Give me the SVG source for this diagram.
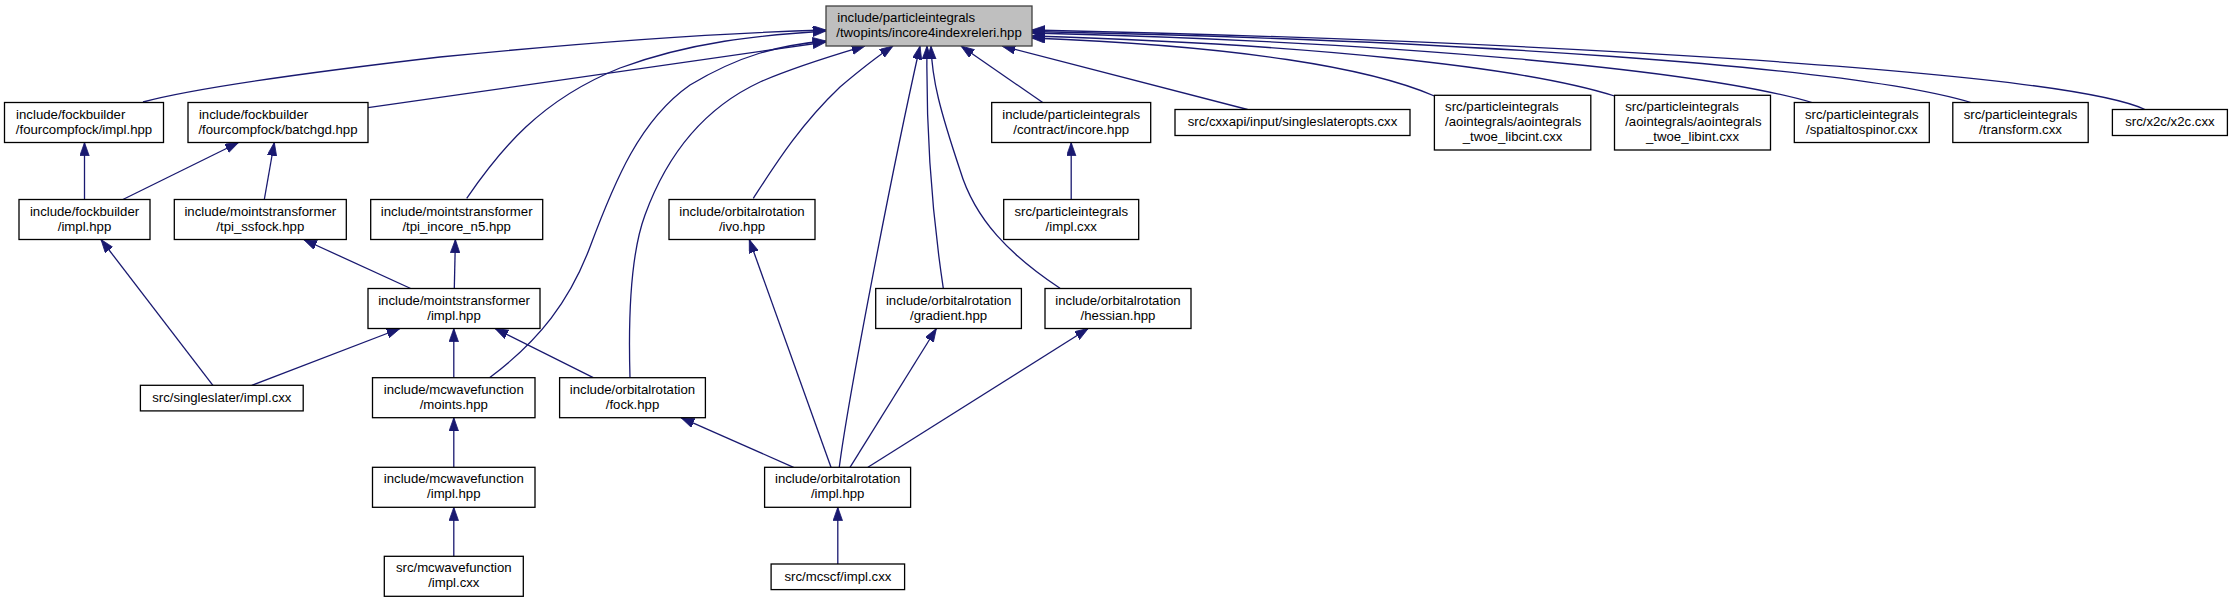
<svg xmlns="http://www.w3.org/2000/svg" width="2233" height="603" viewBox="0 0 2233 603">
<defs>
<marker id="arr" markerUnits="userSpaceOnUse" markerWidth="14" markerHeight="10" refX="13.3" refY="4.7" orient="auto">
<path d="M0,0 L13.3,4.7 L0,9.4 Z" fill="#191970" stroke="#191970" stroke-width="0.8"/>
</marker>
<style>
.n rect{fill:#ffffff;stroke:#000000;stroke-width:1.3}
.r rect{fill:#bfbfbf;stroke:#404040;stroke-width:1.3}
text{font-family:"Liberation Sans",Arial,Helvetica,sans-serif;font-size:13.2px;fill:#000000}
.m{text-anchor:middle}
.s{text-anchor:start}
#edges path{fill:none;stroke:#191970;stroke-width:1.3;marker-end:url(#arr)}
</style>
</defs>
<rect width="2233" height="603" fill="#ffffff"/>
<g id="edges">
<path d="M143,102 C180,92 260,78 440,57 C600,41 720,33 826,30"/>
<path d="M368,107.7 L826,42"/>
<path d="M466.7,198.3 C500,150 540,100 620,68 C690,42 760,35 826,31"/>
<path d="M489.5,377.7 C540,340 570,300 590,247 C615,180 640,120 690,85 C740,55 780,45 826,41"/>
<path d="M630,377.7 C628,310 632,250 645,215 C665,160 700,110 760,82 C800,65 835,55 865,46"/>
<path d="M753.3,198.3 C775,165 800,125 840,87 C860,70 875,58 893,46"/>
<path d="M839.3,467 C848,400 890,180 920,46"/>
<path d="M943.3,288.3 C930,200 926,120 927,46"/>
<path d="M1060,288.3 C1010,255 975,220 960,170 C940,110 932,80 931,46"/>
<path d="M1042.7,102.5 L961,46"/>
<path d="M1247.6,109.5 L1002,46"/>
<path d="M1434.4,96 C1370,68 1240,46 1031.7,38"/>
<path d="M1614.5,96 C1520,66 1300,44 1031.7,36"/>
<path d="M1812,102.5 C1700,70 1400,42 1031.7,33"/>
<path d="M1971,102.5 C1850,66 1450,40 1031.7,31.5"/>
<path d="M2145,109.5 C2060,70 1500,40 1031.7,30"/>
<path d="M84.5,199.5 L84.5,142.5"/>
<path d="M122.9,199.5 L238.6,142.5"/>
<path d="M264.3,199.5 L274.3,142.5"/>
<path d="M410.7,288.5 L303.6,239.5"/>
<path d="M454.3,288.5 L455.4,239.5"/>
<path d="M212.9,385.3 L101,239.5"/>
<path d="M251.8,385.3 L400,328.5"/>
<path d="M453.8,377.7 L453.8,328.5"/>
<path d="M593.3,377.7 L495,328.5"/>
<path d="M453.8,467.3 L453.8,417.7"/>
<path d="M453.8,556.3 L453.8,507.3"/>
<path d="M793.6,467.3 L681,417.7"/>
<path d="M831,467.3 L749.3,239.5"/>
<path d="M850,467.3 L936.4,328.5"/>
<path d="M867.9,467.3 L1088.2,328.5"/>
<path d="M837.8,564 L837.8,507.3"/>
<path d="M1071.2,199.5 L1071.2,142.5"/>
</g>
<g id="n_root" class="r"><rect x="826" y="6" width="206" height="40"/><text class="s" x="837.3" y="22">include/particleintegrals</text><text class="m" x="929" y="37">/twopints/incore4indexreleri.hpp</text></g>
<g id="n_fcf_impl" class="n"><rect x="4.5" y="102.5" width="159" height="40"/><text class="s" x="16.1" y="118.5">include/fockbuilder</text><text class="m" x="84" y="133.5">/fourcompfock/impl.hpp</text></g>
<g id="n_batchgd" class="n"><rect x="188" y="102.5" width="180" height="40"/><text class="s" x="198.9" y="118.5">include/fockbuilder</text><text class="m" x="278" y="133.5">/fourcompfock/batchgd.hpp</text></g>
<g id="n_fb_impl" class="n"><rect x="19" y="199.5" width="131" height="40"/><text class="m" x="84.5" y="215.5">include/fockbuilder</text><text class="m" x="84.5" y="230.5">/impl.hpp</text></g>
<g id="n_ssfock" class="n"><rect x="174.3" y="199.5" width="172" height="40"/><text class="m" x="260.3" y="215.5">include/mointstransformer</text><text class="m" x="260.3" y="230.5">/tpi_ssfock.hpp</text></g>
<g id="n_incore_n5" class="n"><rect x="370.7" y="199.5" width="172" height="40"/><text class="m" x="456.7" y="215.5">include/mointstransformer</text><text class="m" x="456.7" y="230.5">/tpi_incore_n5.hpp</text></g>
<g id="n_mt_impl" class="n"><rect x="368" y="288.5" width="172" height="40"/><text class="m" x="454" y="304.5">include/mointstransformer</text><text class="m" x="454" y="319.5">/impl.hpp</text></g>
<g id="n_ivo" class="n"><rect x="669" y="199.5" width="146" height="40"/><text class="m" x="742" y="215.5">include/orbitalrotation</text><text class="m" x="742" y="230.5">/ivo.hpp</text></g>
<g id="n_contract" class="n"><rect x="991.7" y="102.5" width="159" height="40"/><text class="m" x="1071.2" y="118.5">include/particleintegrals</text><text class="m" x="1071.2" y="133.5">/contract/incore.hpp</text></g>
<g id="n_ssopts" class="n"><rect x="1175" y="109.5" width="235" height="26"/><text class="m" x="1292.5" y="126">src/cxxapi/input/singleslateropts.cxx</text></g>
<g id="n_libcint" class="n"><rect x="1434.4" y="95.3" width="156.4" height="54.7"/><text class="s" x="1445.1" y="111">src/particleintegrals</text><text class="s" x="1445.1" y="126">/aointegrals/aointegrals</text><text class="m" x="1512.6" y="140.8">_twoe_libcint.cxx</text></g>
<g id="n_libint" class="n"><rect x="1614.5" y="95.3" width="156" height="54.7"/><text class="s" x="1625.2" y="111">src/particleintegrals</text><text class="s" x="1625.2" y="126">/aointegrals/aointegrals</text><text class="m" x="1692.5" y="140.8">_twoe_libint.cxx</text></g>
<g id="n_spatial" class="n"><rect x="1794.3" y="102.5" width="135" height="40"/><text class="m" x="1861.8" y="118.5">src/particleintegrals</text><text class="m" x="1861.8" y="133.5">/spatialtospinor.cxx</text></g>
<g id="n_transform" class="n"><rect x="1952.8" y="102.5" width="135.4" height="40"/><text class="m" x="2020.5" y="118.5">src/particleintegrals</text><text class="m" x="2020.5" y="133.5">/transform.cxx</text></g>
<g id="n_x2c" class="n"><rect x="2112.4" y="109.5" width="115" height="26"/><text class="m" x="2169.9" y="126">src/x2c/x2c.cxx</text></g>
<g id="n_pi_impl" class="n"><rect x="1003.7" y="199.5" width="135" height="40"/><text class="m" x="1071.2" y="215.5">src/particleintegrals</text><text class="m" x="1071.2" y="230.5">/impl.cxx</text></g>
<g id="n_gradient" class="n"><rect x="875.7" y="288.5" width="145.7" height="40"/><text class="m" x="948.6" y="304.5">include/orbitalrotation</text><text class="m" x="948.6" y="319.5">/gradient.hpp</text></g>
<g id="n_hessian" class="n"><rect x="1045" y="288.5" width="146" height="40"/><text class="m" x="1118" y="304.5">include/orbitalrotation</text><text class="m" x="1118" y="319.5">/hessian.hpp</text></g>
<g id="n_ss_impl" class="n"><rect x="140.4" y="385.3" width="162.8" height="25.6"/><text class="m" x="221.8" y="401.8">src/singleslater/impl.cxx</text></g>
<g id="n_moints" class="n"><rect x="372.5" y="377.7" width="162.5" height="40"/><text class="m" x="453.8" y="393.7">include/mcwavefunction</text><text class="m" x="453.8" y="408.7">/moints.hpp</text></g>
<g id="n_fock" class="n"><rect x="559.6" y="377.7" width="145.8" height="40"/><text class="m" x="632.5" y="393.7">include/orbitalrotation</text><text class="m" x="632.5" y="408.7">/fock.hpp</text></g>
<g id="n_or_impl" class="n"><rect x="764.6" y="467.3" width="146" height="40"/><text class="m" x="837.7" y="483.3">include/orbitalrotation</text><text class="m" x="837.7" y="498.3">/impl.hpp</text></g>
<g id="n_mcwf_impl" class="n"><rect x="372.5" y="467.3" width="162.5" height="40"/><text class="m" x="453.8" y="483.3">include/mcwavefunction</text><text class="m" x="453.8" y="498.3">/impl.hpp</text></g>
<g id="n_mcwf_cxx" class="n"><rect x="384.3" y="556.3" width="139" height="40"/><text class="m" x="453.8" y="572.3">src/mcwavefunction</text><text class="m" x="453.8" y="587.3">/impl.cxx</text></g>
<g id="n_mcscf" class="n"><rect x="771.1" y="564" width="133.5" height="25.6"/><text class="m" x="837.9" y="580.5">src/mcscf/impl.cxx</text></g>
</svg>
